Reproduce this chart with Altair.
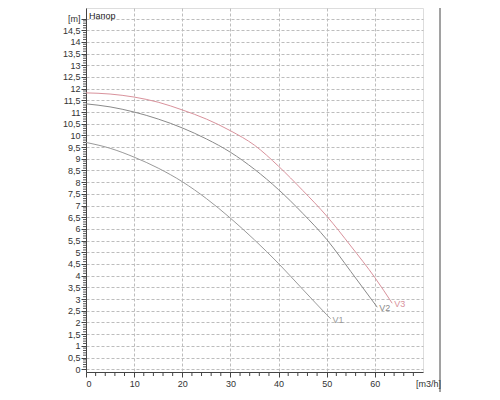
import altair as alt
import pandas as pd

# Pump curves: flow Q [m3/h] vs head H [m]
v1_q = [0, 5, 10, 15, 20, 25, 30, 35, 40, 45, 50, 50.8]
v1_h = [9.7, 9.45, 9.07, 8.6, 8.02, 7.3, 6.46, 5.53, 4.52, 3.42, 2.33, 2.16]
v2_q = [0, 5, 10, 15, 20, 25, 30, 35, 40, 45, 50, 55, 60.5]
v2_h = [11.35, 11.22, 11.0, 10.7, 10.32, 9.85, 9.28, 8.55, 7.68, 6.67, 5.55, 4.18, 2.65]
v3_q = [0, 5, 10, 15, 20, 25, 30, 35, 40, 45, 50, 55, 60, 63.6]
v3_h = [11.82, 11.77, 11.64, 11.42, 11.09, 10.7, 10.2, 9.58, 8.68, 7.65, 6.55, 5.27, 3.92, 2.82]

series_names = ["V1", "V2", "V3"]
series_colors = ["#9a9a9a", "#8a8a8a", "#d9929c"]

y_major = [i * 0.5 for i in range(31)]
y_minor = [round(i * 0.1, 1) for i in range(151) if i % 5 != 0]
x_major = [0, 10, 20, 30, 40, 50, 60]
x_minor = [i for i in range(2, 70, 2) if i % 10 != 0]

rows = []
for name, qs, hs in zip(series_names, [v1_q, v2_q, v3_q], [v1_h, v2_h, v3_h]):
    for q, h in zip(qs, hs):
        rows.append({"series": name, "Q": q, "H": h})
df = pd.DataFrame(rows)
ends = df.groupby("series").tail(1)

W, H = 337, 364
xs = alt.Scale(domain=[0, 70], nice=False, zero=False)
ys = alt.Scale(domain=[-0.12, 15.45], nice=False, zero=False)
col = alt.Scale(domain=series_names, range=series_colors)

x_axis = alt.Axis(values=x_major, format="d", grid=True, gridDash=[3, 2],
                  gridColor="#bdbdbd", tickSize=5, tickColor="#444",
                  domainColor="#444", labelFontSize=9, labelColor="#333",
                  labelFont="Liberation Sans", labelPadding=2,
                  labelOverlap=False)
y_axis = alt.Axis(values=y_major, format=".1~f",
                  labelExpr="datum.value == 15 ? '[m]' : replace(datum.label, '.', ',')",
                  grid=True, gridDash=[3, 2], gridColor="#bdbdbd",
                  tickSize=5, tickColor="#444", domainColor="#444",
                  labelFontSize=9, labelColor="#333",
                  labelFont="Liberation Sans", labelPadding=1,
                  labelOverlap=False, labelBound=False)

lines = alt.Chart(df).mark_line(strokeWidth=1, interpolate="monotone").encode(
    x=alt.X("Q:Q", scale=xs, title=None, axis=x_axis),
    y=alt.Y("H:Q", scale=ys, title=None, axis=y_axis),
    color=alt.Color("series:N", scale=col, legend=None),
    detail="series:N",
)

labels = alt.Chart(ends).mark_text(align="left", baseline="middle", dx=2, dy=1,
                                   fontSize=9, font="Liberation Sans").encode(
    x=alt.X("Q:Q", scale=xs, title=None, axis=x_axis),
    y=alt.Y("H:Q", scale=ys, title=None, axis=y_axis),
    text="series:N",
    color=alt.Color("series:N", scale=col, legend=None),
)

ymin = alt.Chart(pd.DataFrame({"v": y_minor})).mark_rule(color="#555", strokeWidth=1).encode(
    y=alt.Y("v:Q", scale=ys, title=None, axis=y_axis), x=alt.value(-3), x2=alt.value(0))
xmin = alt.Chart(pd.DataFrame({"v": x_minor})).mark_rule(color="#444", strokeWidth=1).encode(
    x=alt.X("v:Q", scale=xs, title=None, axis=x_axis), y=alt.value(H), y2=alt.value(H + 4))

title_txt = alt.Chart(pd.DataFrame({"t": ["Напор"]})).mark_text(
    align="left", baseline="middle", fontSize=9, font="Liberation Sans", color="#222").encode(
    x=alt.value(3), y=alt.value(8), text="t:N")

unit_x = alt.Chart(pd.DataFrame({"t": ["[m3/h]"]})).mark_text(
    align="left", baseline="middle", fontSize=9, font="Liberation Sans", color="#333").encode(
    x=alt.value(330), y=alt.value(H + 12), text="t:N")

edge = alt.Chart(pd.DataFrame({"a": [0]})).mark_rule(color="#444", strokeWidth=1).encode(
    x=alt.value(354), y=alt.value(-10), y2=alt.value(H + 40))

chart = alt.layer(lines, labels, ymin, xmin, title_txt, unit_x, edge).properties(
    width=W, height=H,
    autosize=alt.AutoSizeParams(type="none"),
    padding={"left": 78, "top": 0, "right": 60, "bottom": 20},
).configure_view(stroke="#999", strokeWidth=1).configure(background="white")

chart.save("out.html", embed_options={"renderer": "svg", "actions": False})
